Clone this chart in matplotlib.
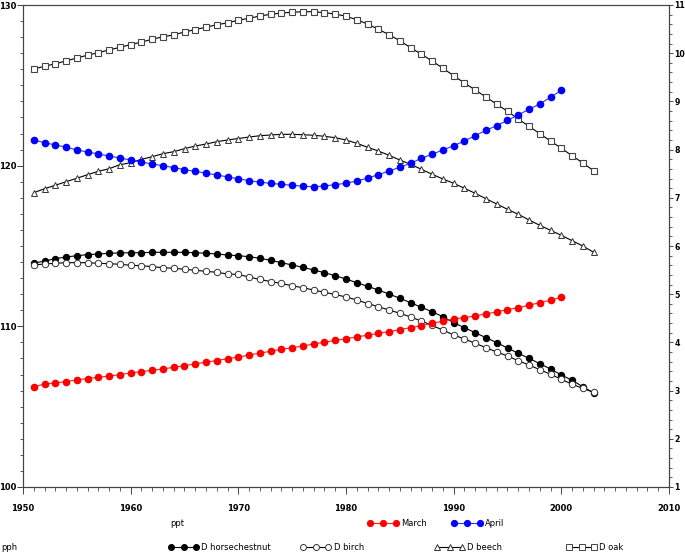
import matplotlib
matplotlib.use("Agg")
import matplotlib.pyplot as plt
from matplotlib.lines import Line2D
from matplotlib.ticker import MultipleLocator

# ---------------- data ----------------
years_ppt = list(range(1951, 2001))
years_pph = list(range(1951, 2004))

march = [106.25, 106.40, 106.48, 106.56, 106.66, 106.75, 106.83, 106.91, 106.99, 107.10,
         107.18, 107.27, 107.35, 107.45, 107.55, 107.66, 107.77, 107.87, 107.99, 108.08,
         108.22, 108.33, 108.45, 108.57, 108.67, 108.78, 108.90, 109.01, 109.13, 109.23,
         109.34, 109.45, 109.57, 109.67, 109.79, 109.92, 110.04, 110.19, 110.32, 110.46,
         110.54, 110.65, 110.77, 110.90, 111.04, 111.16, 111.31, 111.48, 111.62, 111.81]

april = [121.60, 121.43, 121.29, 121.15, 120.98, 120.85, 120.73, 120.60, 120.48, 120.35,
         120.23, 120.10, 120.00, 119.88, 119.75, 119.65, 119.53, 119.42, 119.30, 119.18,
         119.07, 118.97, 118.90, 118.84, 118.78, 118.72, 118.69, 118.74, 118.82, 118.90,
         119.05, 119.22, 119.44, 119.67, 119.90, 120.15, 120.46, 120.71, 120.98, 121.24,
         121.54, 121.87, 122.20, 122.49, 122.82, 123.16, 123.51, 123.84, 124.26, 124.69]

d_horsechestnut = [5.641, 5.689, 5.737, 5.772, 5.799, 5.820, 5.834, 5.849, 5.855, 5.861,
                   5.861, 5.869, 5.869, 5.869, 5.869, 5.861, 5.849, 5.834, 5.813, 5.799,
                   5.778, 5.745, 5.703, 5.654, 5.606, 5.558, 5.502, 5.446, 5.384, 5.315,
                   5.239, 5.164, 5.087, 5.004, 4.915, 4.824, 4.728, 4.637, 4.533, 4.409,
                   4.305, 4.201, 4.098, 3.994, 3.884, 3.774, 3.670, 3.558, 3.448, 3.324,
                   3.214, 3.081, 2.950]

d_birch = [5.606, 5.627, 5.641, 5.654, 5.654, 5.654, 5.641, 5.633, 5.620, 5.600,
           5.591, 5.571, 5.550, 5.537, 5.517, 5.496, 5.475, 5.454, 5.419, 5.409,
           5.357, 5.305, 5.263, 5.222, 5.176, 5.133, 5.087, 5.039, 4.994, 4.942,
           4.880, 4.807, 4.741, 4.672, 4.604, 4.527, 4.444, 4.351, 4.257, 4.154,
           4.071, 3.981, 3.890, 3.801, 3.718, 3.620, 3.531, 3.434, 3.338, 3.235,
           3.131, 3.048, 2.965]

d_beech = [7.106, 7.189, 7.259, 7.334, 7.405, 7.479, 7.550, 7.604, 7.687, 7.728,
           7.799, 7.853, 7.915, 7.957, 8.019, 8.075, 8.116, 8.164, 8.199, 8.230,
           8.261, 8.288, 8.303, 8.317, 8.317, 8.309, 8.297, 8.276, 8.247, 8.199,
           8.131, 8.048, 7.971, 7.881, 7.784, 7.695, 7.591, 7.488, 7.390, 7.301,
           7.197, 7.093, 6.981, 6.871, 6.761, 6.658, 6.539, 6.429, 6.326, 6.222,
           6.110, 6.000, 5.869]

d_oak = [9.67, 9.73, 9.78, 9.84, 9.90, 9.96, 10.01, 10.07, 10.12, 10.18,
         10.23, 10.29, 10.34, 10.38, 10.44, 10.49, 10.54, 10.59, 10.63, 10.685,
         10.724, 10.772, 10.807, 10.834, 10.849, 10.861, 10.861, 10.840, 10.813, 10.766,
         10.695, 10.606, 10.496, 10.384, 10.259, 10.114, 9.977, 9.838, 9.687, 9.533,
         9.382, 9.237, 9.091, 8.940, 8.795, 8.635, 8.483, 8.330, 8.178, 8.027,
         7.873, 7.722, 7.562]

x_ticks = [1950, 1960, 1970, 1980, 1990, 2000, 2010]
left_ticks = [100, 110, 120, 130]
right_ticks = [1, 2, 3, 4, 5, 6, 7, 8, 9, 10, 11]

# ---------------- figure ----------------
W, H = 685, 553
fig = plt.figure(figsize=(W / 100, H / 100), dpi=100)
L, R, T, B = 23, 669, 5, 487
ax = fig.add_axes([L / W, 1 - B / H, (R - L) / W, (B - T) / H])
ax2 = ax.twinx()

spine_c = "#444444"
tick_font = dict(family="DejaVu Sans", size=6, weight="bold")
rtick_font = dict(family="DejaVu Sans", size=5.6, weight="bold")

# right-axis series (D ...)
lw = 0.8
ax2.plot(years_pph, d_horsechestnut, color="black", lw=lw, marker="o", ms=4.3,
         mfc="black", mec="black")
ax2.plot(years_pph, d_birch, color="black", lw=lw, marker="o", ms=4.6,
         mfc="white", mec="#333333", mew=0.7)
ax2.plot(years_pph, d_beech, color="black", lw=lw, marker="^", ms=5.0,
         mfc="white", mec="#333333", mew=0.7)
ax2.plot(years_pph, d_oak, color="black", lw=lw, marker="s", ms=4.8,
         mfc="white", mec="#444444", mew=0.8)

# left-axis series (March / April) drawn on top
ax.plot(years_ppt, march, color="#ff2020", lw=lw, marker="o", ms=4.5,
        mfc="red", mec="red")
ax.plot(years_ppt, april, color="#3030ff", lw=lw, marker="o", ms=4.5,
        mfc="blue", mec="blue")
ax.set_zorder(ax2.get_zorder() + 1)
ax.patch.set_visible(False)

ax.set_xlim(1950, 2010)
ax.set_ylim(100, 130)
ax2.set_ylim(1, 11)

ax.set_xticks(x_ticks)
ax.set_xticklabels([str(v) for v in x_ticks], **tick_font)
ax.xaxis.set_minor_locator(MultipleLocator(1))
ax.set_yticks(left_ticks)
ax.set_yticklabels([str(v) for v in left_ticks], **tick_font)
ax.yaxis.set_minor_locator(MultipleLocator(1))
ax2.set_yticks(right_ticks)
ax2.set_yticklabels([str(v) for v in right_ticks], **rtick_font)
ax2.yaxis.set_minor_locator(MultipleLocator(0.2))

ax.tick_params(axis="x", which="major", direction="out", length=5, width=0.7,
               color=spine_c, pad=7)
ax.tick_params(axis="x", which="minor", direction="out", length=3, width=0.6,
               color=spine_c)
ax.tick_params(axis="y", which="major", direction="out", length=4, width=0.7,
               color=spine_c, pad=1)
ax.tick_params(axis="y", which="minor", direction="out", length=2.5, width=0.6,
               color=spine_c)
ax2.tick_params(axis="y", which="major", direction="out", length=3, width=0.7,
                color=spine_c, pad=1)
ax2.tick_params(axis="y", which="minor", direction="out", length=2, width=0.6,
                color=spine_c)

for a in (ax, ax2):
    for s in a.spines.values():
        s.set_color(spine_c)
        s.set_linewidth(0.8)

# ---------------- legend rows (manual, pixel positions) ----------------
def fx(px):
    return px / W

def fy(py):
    return 1 - py / H

legend_font = dict(family="DejaVu Sans", size=6, va="center")

def key(x0, x1, y, color, marker, mfc, mec, ms):
    xs = [fx(x0), fx((x0 + x1) / 2), fx(x1)]
    ys = [fy(y)] * 3
    fig.add_artist(Line2D(xs, ys, transform=fig.transFigure, color=color, lw=lw,
                          marker=marker, ms=ms, mfc=mfc, mec=mec, mew=0.7))

row1, row2 = 523, 547
fig.text(fx(170), fy(row1), "ppt", **legend_font)
key(370, 396, row1, "#ff2020", "o", "red", "red", 4.5)
fig.text(fx(401), fy(row1), "March", **legend_font)
key(454, 480, row1, "#3030ff", "o", "blue", "blue", 4.5)
fig.text(fx(485), fy(row1), "April", **legend_font)

fig.text(fx(1), fy(row2), "pph", **legend_font)
key(171, 196, row2, "black", "o", "black", "black", 4.3)
fig.text(fx(201), fy(row2), "D horsechestnut", **legend_font)
key(303, 328, row2, "black", "o", "white", "#333333", 4.3)
fig.text(fx(334), fy(row2), "D birch", **legend_font)
key(437, 462, row2, "black", "^", "white", "#333333", 4.6)
fig.text(fx(467), fy(row2), "D beech", **legend_font)
key(569, 594, row2, "black", "s", "white", "#444444", 4.3)
fig.text(fx(599), fy(row2), "D oak", **legend_font)

fig.savefig("out.png", dpi=100)
